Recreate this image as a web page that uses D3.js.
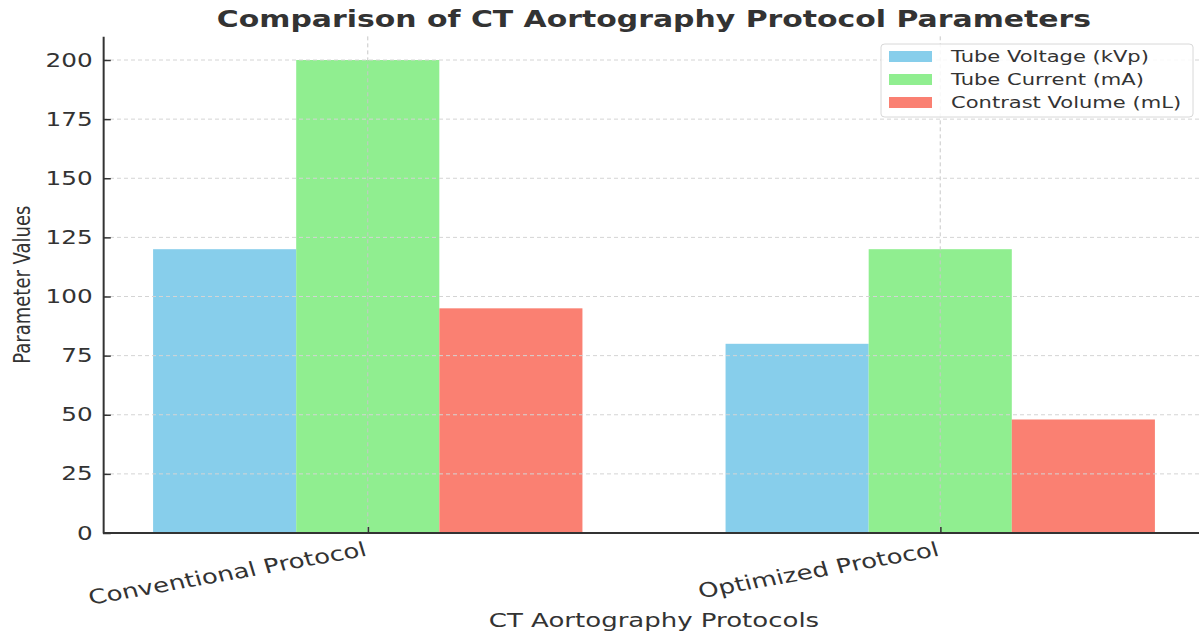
<!DOCTYPE html>
<html lang="en">
<head>
    <meta charset="UTF-8">
    <script src="https://d3js.org/d3.v7.min.js"></script>
    <title>CT Aortography Protocols</title>
    <style>
        body { margin: 0; background: #fff; }
        text { font-family: "DejaVu Sans", sans-serif; fill: #333; }
    </style>
</head>
<body>
    <div id="chart"></div>
<script>
    // data
    const categories = ["Conventional Protocol", "Optimized Protocol"];
    const seriesNames = ["Tube Voltage (kVp)", "Tube Current (mA)", "Contrast Volume (mL)"];
    const voltage = [120, 80];
    const current = [200, 120];
    const contrast = [95, 48];
    const yTicks = [0, 25, 50, 75, 100, 125, 150, 175, 200];
    const colors = ["#87CEEB", "#90EE90", "#FA8072"];

    const series = [voltage, current, contrast];

    const W = 1199, H = 633;
    const sx = 1.3;             // the picture is stretched sideways
    const innerW = W / sx;

    const svg = d3.select("#chart").append("svg")
        .attr("width", W).attr("height", H);

    const g = svg.append("g").attr("transform", "scale(" + sx + ",1)");

    // scales
    const barW = 0.25;
    const x = d3.scaleLinear().domain([-0.4625, 1.4625]).range([103 / sx, 1205 / sx]);
    const y = d3.scaleLinear().domain([0, 210]).range([533, 533 - 473 * 1.05]);

    const xLeft = x(-0.4625), xRight = innerW;
    const yTop = y(210), yBottom = y(0);

    // bars
    series.forEach(function (vals, si) {
        g.append("g").selectAll("rect").data(vals).enter()
            .append("rect")
            .attr("x", function (d, i) { return x(i + (si - 1) * barW - barW / 2); })
            .attr("width", x(barW) - x(0))
            .attr("y", function (d) { return y(d); })
            .attr("height", function (d) { return y(0) - y(d); })
            .attr("fill", colors[si]);
    });

    // grid (drawn over the bars)
    const grid = g.append("g");
    grid.selectAll(".hg").data(yTicks).enter().append("line")
        .attr("x1", xLeft).attr("x2", xRight)
        .attr("y1", function (d) { return y(d); })
        .attr("y2", function (d) { return y(d); })
        .attr("stroke", "#d4d4d4").attr("stroke-width", 1)
        .attr("stroke-dasharray", "4,3")
        .attr("vector-effect", "non-scaling-stroke");
    grid.selectAll(".vg").data(categories).enter().append("line")
        .attr("x1", function (d, i) { return x(i); })
        .attr("x2", function (d, i) { return x(i); })
        .attr("y1", yTop).attr("y2", yBottom)
        .attr("stroke", "#c8c8c8").attr("stroke-width", 1)
        .attr("stroke-dasharray", "4,3")
        .attr("vector-effect", "non-scaling-stroke");

    // y axis
    const yAxis = g.append("g").attr("transform", "translate(" + xLeft + ",0)")
        .call(d3.axisLeft(y).tickValues(yTicks).tickSizeInner(-6).tickSizeOuter(0).tickPadding(8));
    yAxis.select(".domain").attr("stroke", "#333").attr("stroke-width", 2)
        .attr("vector-effect", "non-scaling-stroke");
    yAxis.selectAll(".tick line").attr("stroke", "#333").attr("stroke-width", 1.5)
        .attr("vector-effect", "non-scaling-stroke");
    yAxis.selectAll(".tick text").style("font-size", "19px").attr("fill", "#333")
        .style("font-family", "DejaVu Sans");

    // x axis
    const xAxis = g.append("g").attr("transform", "translate(0," + yBottom + ")")
        .call(d3.axisBottom(x).tickValues([0, 1]).tickSizeInner(-6).tickSizeOuter(0)
            .tickFormat(function (d) { return categories[d]; }));
    xAxis.select(".domain").attr("d", "M" + xLeft + ",0H" + xRight)
        .attr("stroke", "#333").attr("stroke-width", 2)
        .attr("vector-effect", "non-scaling-stroke");
    xAxis.selectAll(".tick line").attr("stroke", "#333").attr("stroke-width", 1.5)
        .attr("vector-effect", "non-scaling-stroke");
    xAxis.selectAll(".tick text")
        .style("font-size", "20px").style("font-family", "DejaVu Sans").attr("fill", "#333")
        .attr("text-anchor", "end")
        .attr("y", 0).attr("dy", "0.8em")
        .attr("transform", "translate(-4,7) rotate(-13)");

    // labels
    g.append("text")
        .attr("x", (103 + 1205) / 2 / sx).attr("y", 27)
        .attr("text-anchor", "middle")
        .style("font-size", "23px").style("font-weight", "bold")
        .text("Comparison of CT Aortography Protocol Parameters");

    g.append("text")
        .attr("x", (103 + 1205) / 2 / sx).attr("y", 627)
        .attr("text-anchor", "middle")
        .style("font-size", "20px")
        .text("CT Aortography Protocols");

    g.append("text")
        .attr("transform", "translate(" + (30 / sx) + "," + ((yTop + yBottom) / 2) + ") rotate(-90)")
        .attr("text-anchor", "middle")
        .style("font-size", "18px")
        .text("Parameter Values");

    // legend
    const lg = g.append("g").attr("transform", "translate(" + (881 / sx) + ",44)");
    lg.append("rect")
        .attr("width", (1193 - 881) / sx).attr("height", 73)
        .attr("rx", 3)
        .attr("fill", "#fff").attr("fill-opacity", 0.85)
        .attr("stroke", "#d8d8d8").attr("vector-effect", "non-scaling-stroke");
    seriesNames.forEach(function (name, i) {
        lg.append("rect")
            .attr("x", 8 / sx).attr("y", 7 + i * 23)
            .attr("width", 43 / sx).attr("height", 11)
            .attr("fill", colors[i]);
        lg.append("text")
            .attr("x", 70 / sx).attr("y", 18 + i * 23)
            .style("font-size", "16.2px")
            .text(name);
    });
</script>
</body>
</html>
